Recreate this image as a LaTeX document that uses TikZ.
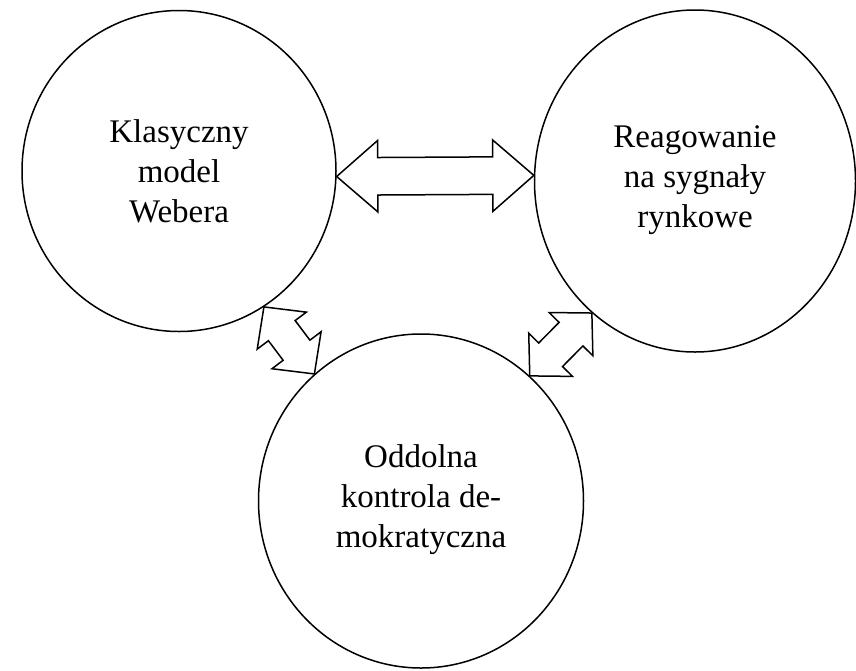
\documentclass[tikz,border=0pt]{standalone}
\usepackage{fontspec}
\setmainfont{Liberation Serif}
\usetikzlibrary{shapes.geometric}
\usetikzlibrary{shapes.arrows}
\usetikzlibrary{calc}
\tikzset{
    krag/.style={ellipse, draw, line width=1.5pt, align=center, inner sep=0pt,
        font=\fontsize{33}{40}\selectfont},
    dwustr/.style={double arrow, draw, fill=white, line width=1.5pt, inner xsep=0pt,
        inner ysep=18pt, minimum width=0pt,
        double arrow head extend=17pt, double arrow tip angle=82},
    skosna/.style={inner ysep=16pt, double arrow head extend=14pt, double arrow tip angle=92},
}
% double arrow between two points
\newcommand{\strzalka}[3][]{%
    \path let \p1=($(#3)-(#2)$), \n1={atan2(\y1,\x1)}, \n2={veclen(\x1,\y1)} in
        node[dwustr, #1, rotate=\n1, minimum height=\n2] at ($(#2)!.5!(#3)$) {};
}
\begin{document}
\begin{tikzpicture}[x=1pt, y=-1pt]
    \useasboundingbox (0,0) rectangle (856,670);

    \node[krag, minimum width=314pt, minimum height=321pt] (weber) at (179,171) {Klasyczny\\model\\Webera};
    \node[krag, minimum width=321pt, minimum height=342pt] (rynek) at (695,181) {Reagowanie\\na sygnały\\rynkowe\\[-31pt]};
    \node[krag, minimum width=325pt, minimum height=334pt] (demo) at (421,501) {Oddolna\\kontrola de-\\mokratyczna\\[-30pt]};

    \coordinate (w1) at (weber.-2);
    \coordinate (r1) at (rynek.178.6);
    \coordinate (w2) at (weber.-58);
    \coordinate (d1) at (demo.130);
    \coordinate (r2) at (rynek.232);
    \coordinate (d2) at (demo.49);

    \strzalka{w1}{r1}
    \strzalka[skosna]{w2}{d1}
    \strzalka[skosna]{d2}{r2}
\end{tikzpicture}
\end{document}
